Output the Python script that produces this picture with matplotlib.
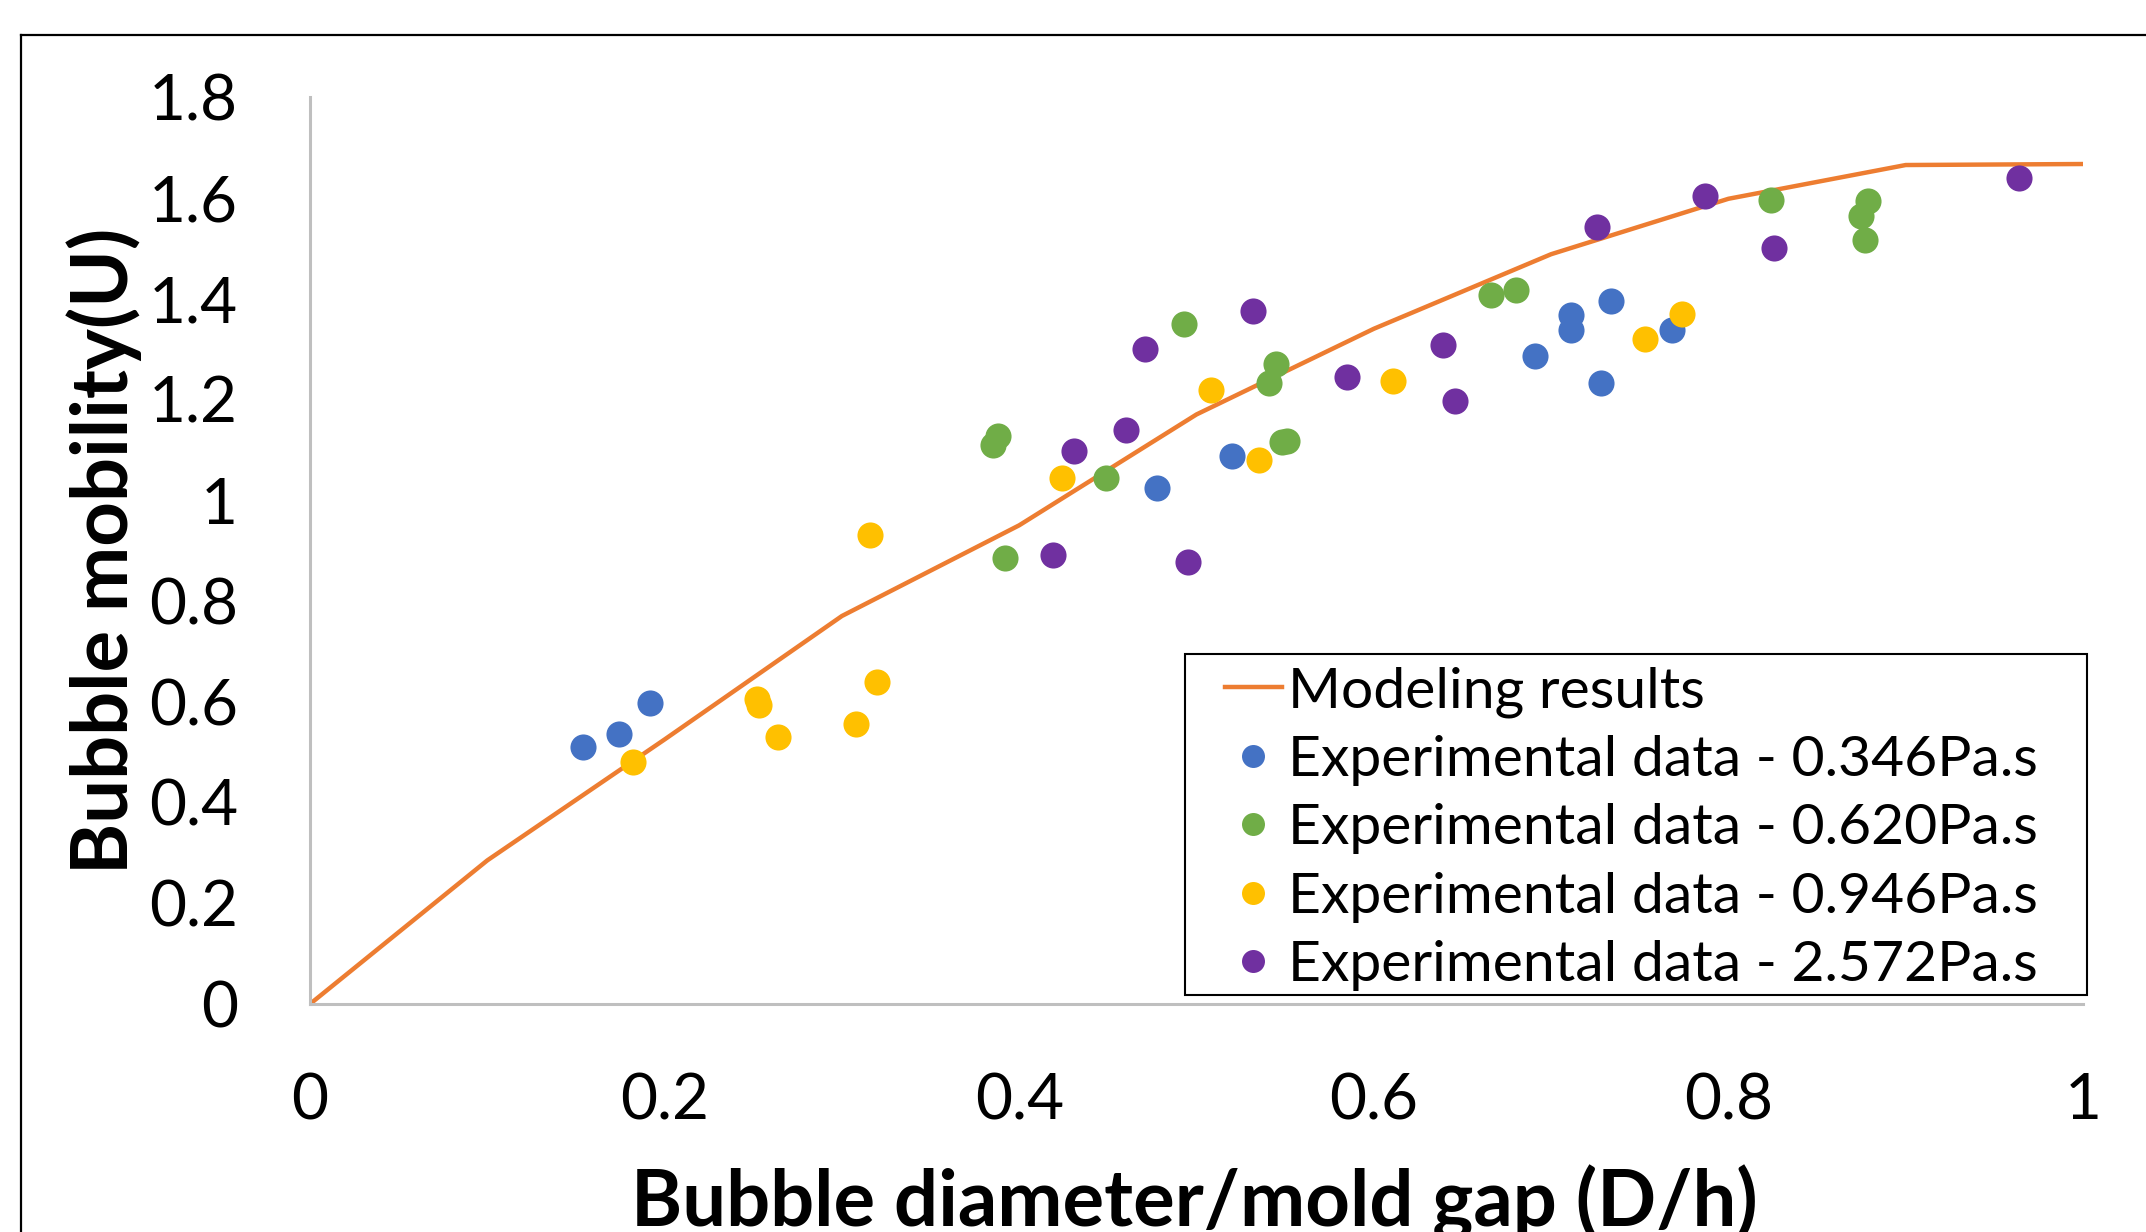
import matplotlib
matplotlib.use("Agg")
import matplotlib.pyplot as plt
from matplotlib.lines import Line2D
from matplotlib.patches import Rectangle

plt.rcParams["font.family"] = ["Lato", "DejaVu Sans"]

model_x = [0, 0.1, 0.2, 0.3, 0.4, 0.5, 0.6, 0.7, 0.8, 0.9, 1.0]
model_y = [0, 0.285, 0.525, 0.77, 0.95, 1.17, 1.34, 1.488, 1.598, 1.665, 1.667]

blue_x = [0.154, 0.174, 0.192, 0.478, 0.520, 0.691, 0.711, 0.711, 0.728, 0.734, 0.768]
blue_y = [0.511, 0.536, 0.598, 1.025, 1.088, 1.286, 1.368, 1.338, 1.232, 1.395, 1.338]

green_x = [0.385, 0.388, 0.392, 0.449, 0.493, 0.541, 0.545, 0.548, 0.551, 0.666, 0.680, 0.824, 0.875, 0.877, 0.879]
green_y = [1.109, 1.128, 0.886, 1.044, 1.349, 1.232, 1.270, 1.115, 1.117, 1.408, 1.417, 1.596, 1.563, 1.517, 1.593]

yellow_x = [0.182, 0.252, 0.253, 0.264, 0.308, 0.316, 0.320, 0.424, 0.508, 0.535, 0.611, 0.753, 0.774]
yellow_y = [0.481, 0.606, 0.593, 0.530, 0.555, 0.930, 0.639, 1.044, 1.218, 1.079, 1.237, 1.319, 1.370]

purple_x = [0.419, 0.431, 0.460, 0.471, 0.495, 0.532, 0.585, 0.639, 0.646, 0.726, 0.787, 0.826, 0.964]
purple_y = [0.892, 1.098, 1.139, 1.300, 0.878, 1.376, 1.245, 1.308, 1.196, 1.542, 1.604, 1.501, 1.640]

series = [
    (blue_x, blue_y, "#4472C4", "Experimental data - 0.346Pa.s"),
    (green_x, green_y, "#70AD47", "Experimental data - 0.620Pa.s"),
    (yellow_x, yellow_y, "#FFC000", "Experimental data - 0.946Pa.s"),
    (purple_x, purple_y, "#7030A0", "Experimental data - 2.572Pa.s"),
]

W, H = 2146, 1232
fig = plt.figure(figsize=(W / 100, H / 100), dpi=100)
ax = fig.add_axes([310 / W, 1 - 1004 / H, (2083 - 310) / W, (1004 - 97) / H])

ax.plot(model_x, model_y, color="#ED7D31", lw=3.2, label="Modeling results", zorder=2)
for xs, ys, color, label in series:
    ax.plot(xs, ys, ls="none", marker="o", ms=18.8, mec="none", color=color, label=label, zorder=3)

ax.set_xlim(0, 1)
ax.set_ylim(0, 1.8)
ax.set_xticks([0, 0.2, 0.4, 0.6, 0.8, 1])
ax.set_xticklabels(["0", "0.2", "0.4", "0.6", "0.8", "1"])
ax.set_yticks([0, 0.2, 0.4, 0.6, 0.8, 1, 1.2, 1.4, 1.6, 1.8])
ax.set_yticklabels(["0", "0.2", "0.4", "0.6", "0.8", "1", "1.2", "1.4", "1.6", "1.8"])
ax.tick_params(length=0, labelsize=46, pad=0)
ax.tick_params(axis="y", pad=52)
ax.tick_params(axis="x", pad=49)
for side in ["top", "right"]:
    ax.spines[side].set_visible(False)
for side in ["left", "bottom"]:
    ax.spines[side].set_color("#BFBFBF")
    ax.spines[side].set_linewidth(2.2)

ax.set_ylabel("Bubble mobility(U)", fontsize=56, fontweight="bold")
ax.yaxis.set_label_coords(-0.095, 0.5)
fig.text(0.5565, 1 - 1227 / H, "Bubble diameter/mold gap (D/h)", fontsize=56,
         fontweight="bold", ha="center", va="baseline")

# legend box drawn separately so its padding matches the original
ax.add_patch(Rectangle((1185 / W, 1 - 995 / H), (2087 - 1185) / W, (995 - 654) / H,
                       transform=fig.transFigure, facecolor="white", edgecolor="black",
                       lw=1.5, zorder=4, clip_on=False))
leg = ax.legend(loc="upper left", bbox_to_anchor=(1225 / W, 1 - 666 / H),
                bbox_transform=fig.transFigure, borderaxespad=0, borderpad=0,
                fontsize=41, frameon=False, handlelength=1.0, handletextpad=0.1,
                labelspacing=0.305, markerscale=0.88)
leg.set_zorder(5)

# outer frame around the chart area
fig.add_artist(Line2D([21 / W, 1.0], [1 - 35 / H, 1 - 35 / H], transform=fig.transFigure,
                      color="black", lw=1.6))
fig.add_artist(Line2D([21 / W, 21 / W], [1 - 35 / H, 0.0], transform=fig.transFigure,
                      color="black", lw=1.6))

fig.savefig("out.png", dpi=100)
